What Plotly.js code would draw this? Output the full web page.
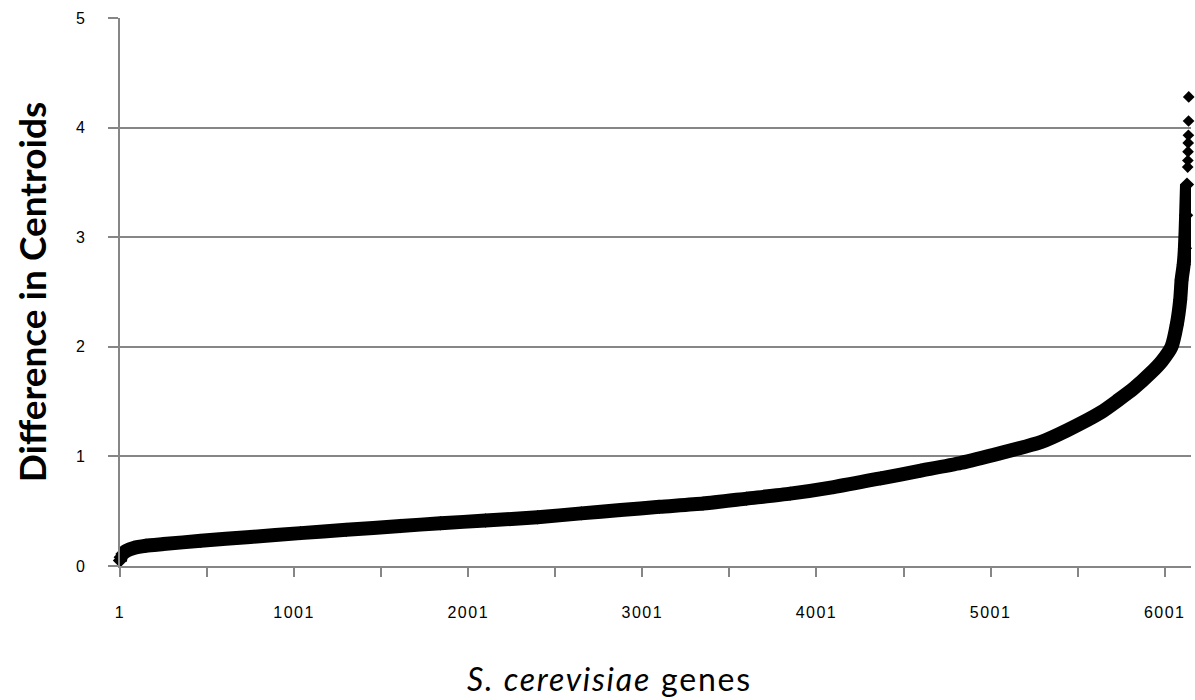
<!DOCTYPE html>
<html>
<head>
<meta charset="utf-8">
<script src="https://cdn.plot.ly/plotly-3.0.1.min.js"></script>
<style>html,body{margin:0;padding:0;background:#fff;}#chart{width:1195px;height:700px;}
.annotation-text{letter-spacing:1.8px;}
.xtick text{letter-spacing:1.5px;}
</style>
</head>
<body>
<div id="chart"></div>
<script>
// Sorted genes (rank) and their difference in centroids
const bandGenes = [1, 5, 15, 40, 80, 150, 250, 465, 750, 1038, 1300, 1612, 1842, 2100, 2400, 2650, 2876, 3100, 3350, 3600, 3850, 4100, 4370, 4600, 4829, 5058, 5289, 5443, 5633, 5731, 5823, 5920, 5985, 6040, 6070, 6090, 6098, 6110, 6117, 6124, 6129];
const bandValues = [0.05, 0.08, 0.11, 0.14, 0.165, 0.185, 0.20, 0.23, 0.265, 0.30, 0.33, 0.365, 0.39, 0.415, 0.445, 0.48, 0.51, 0.54, 0.57, 0.615, 0.66, 0.72, 0.80, 0.87, 0.94, 1.03, 1.13, 1.24, 1.40, 1.51, 1.62, 1.76, 1.87, 2.0, 2.2, 2.43, 2.61, 2.75, 2.9, 3.2, 3.48];
// Isolated top genes
const tailGenes = [6133, 6134, 6135, 6136, 6137, 6138, 6139];
const tailValues = [3.64, 3.70, 3.78, 3.86, 3.93, 4.06, 4.28];

const xTickVals = [1, 1001, 2001, 3001, 4001, 5001, 6001];
const xTickText = ['1', '1001', '2001', '3001', '4001', '5001', '6001'];
const yTickVals = [0, 1, 2, 3, 4, 5];
const xTitle = '<i>S. cerevisiae</i> genes';
const yTitle = '<b>Difference in Centroids</b>';

const gray = '#868686';
const traces = [
  {x: bandGenes, y: bandValues, type: 'scatter', mode: 'lines+markers', cliponaxis: false,
   line: {color: '#000', width: 14, shape: 'spline', smoothing: 0.6},
   marker: {symbol: 'diamond', size: 11, color: '#000'}, hoverinfo: 'x+y'},
  {x: tailGenes, y: tailValues, type: 'scatter', mode: 'markers', cliponaxis: false,
   marker: {symbol: 'diamond', size: 9, color: '#000'}, hoverinfo: 'x+y'}
];
const layout = {
  width: 1195, height: 700,
  margin: {l: 120, r: 4, t: 18, b: 134},
  paper_bgcolor: '#fff', plot_bgcolor: '#fff',
  showlegend: false,
  font: {family: '"Liberation Sans", Arial, sans-serif', color: '#000', size: 16},
  xaxis: {
    range: [1, 6152], tickmode: 'array', tickvals: xTickVals, ticktext: xTickText,
    ticks: 'outside', ticklen: 9, tickcolor: gray, tickwidth: 2,
    minor: {tickmode: 'linear', tick0: 1, dtick: 500, ticks: 'outside', ticklen: 9, tickcolor: gray, tickwidth: 2, showgrid: false},
    showgrid: false, zeroline: false, showline: true, linecolor: gray, linewidth: 2,
    ticklabelstandoff: 22,
    tickfont: {size: 16}
  },
  yaxis: {
    range: [0, 5], tickmode: 'array', tickvals: yTickVals,
    ticks: 'outside', ticklen: 10, tickcolor: gray, tickwidth: 2,
    showgrid: true, gridcolor: gray, gridwidth: 2,
    zeroline: false, showline: true, linecolor: gray, linewidth: 2,
    ticklabelstandoff: 20,
    tickfont: {size: 16},
    title: {text: yTitle, font: {family: 'Lato, "Open Sans", sans-serif', size: 37, color: '#000'}, standoff: 18}
  },
  annotations: [{
    text: xTitle, xref: 'paper', yref: 'paper', x: 0.4575, y: -0.205,
    xanchor: 'center', yanchor: 'middle', showarrow: false,
    font: {family: 'Lato, "Open Sans", sans-serif', size: 32, color: '#000'}
  }]
};
Plotly.newPlot('chart', traces, layout, {displayModeBar: false, staticPlot: true});
</script>
</body>
</html>
